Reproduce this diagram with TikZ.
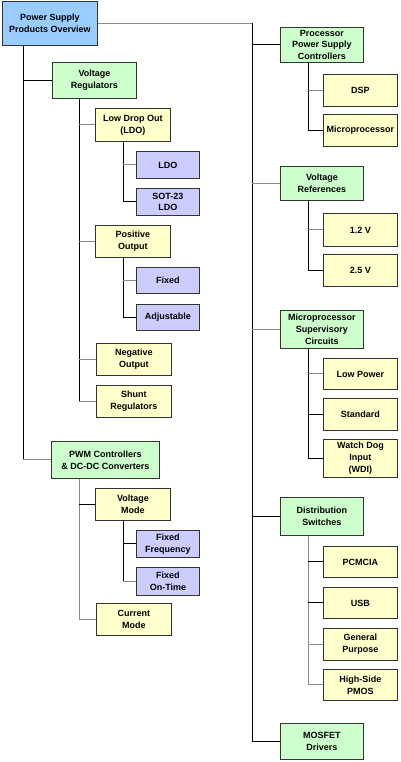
\documentclass[tikz,border=0pt]{standalone}
\usepackage{fontspec}
\setmainfont{Liberation Sans}
\definecolor{rootfill}{HTML}{99CCFF}
\definecolor{grnfill}{HTML}{CCFFCC}
\definecolor{ylwfill}{HTML}{FFFFCC}
\definecolor{prpfill}{HTML}{CCCCFF}
\definecolor{boxline}{HTML}{333333}
\definecolor{lgray}{HTML}{8A8A8A}
\tikzset{
  box/.style={draw=boxline, line width=0.9pt, inner sep=0pt, align=center,
    font=\bfseries\fontsize{9}{11.8}\selectfont, anchor=north west},
  rootbox/.style={box, fill=rootfill},
  grnbox/.style={box, fill=grnfill},
  ylwbox/.style={box, fill=ylwfill},
  prpbox/.style={box, fill=prpfill},
  klink/.style={line width=1pt, black},
  glink/.style={line width=1pt, lgray},
}
\newcommand\bx[7]{\node[#6, minimum width={#4pt-#2pt}, minimum height={#5pt-#3pt}] (#1) at (#2,#3) {#7};}
\begin{document}
\begin{tikzpicture}[x=1pt,y=-1pt]
\useasboundingbox[fill=white] (0,0) rectangle (400,762);
\coordinate (xa) at (23,0);
\coordinate (xb) at (79,0);
\coordinate (xc) at (123,0);
\coordinate (xd) at (252,0);
\coordinate (xe) at (308,0);
% left tree
\bx{root}{2}{1}{97}{45}{rootbox}{Power Supply\\Products Overview}
\bx{vr}{52}{62}{136}{98}{grnbox}{Voltage\\Regulators}
\bx{ldog}{95}{108}{170}{141}{ylwbox}{Low Drop Out\\(LDO)}
\bx{ldo}{136}{151}{199}{178}{prpbox}{LDO}
\bx{sot}{136}{188}{199}{215}{prpbox}{SOT-23\\LDO}
\bx{pos}{95}{225}{170}{257}{ylwbox}{Positive\\Output}
\bx{fix}{136}{267}{199}{293}{prpbox}{Fixed}
\bx{adj}{136}{304}{199}{330}{prpbox}{Adjustable}
\bx{neg}{96}{343}{171}{375}{ylwbox}{Negative\\Output}
\bx{shunt}{96}{385}{171}{417}{ylwbox}{Shunt\\Regulators}
\bx{pwm}{51}{441}{159}{478}{grnbox}{PWM Controllers\\\& DC-DC Converters}
\bx{vm}{95}{488}{170}{520}{ylwbox}{Voltage\\Mode}
\bx{ff}{136}{530}{199}{557}{prpbox}{Fixed\\Frequency}
\bx{fot}{136}{567}{199}{595}{prpbox}{Fixed\\On-Time}
\bx{cm}{96}{603}{171}{635}{ylwbox}{Current\\Mode}
% right tree
\bx{pps}{280}{27}{363}{62}{grnbox}{Processor\\Power Supply\\Controllers}
\bx{dsp}{323}{74}{397}{106}{ylwbox}{DSP}
\bx{mic}{323}{114}{397}{146}{ylwbox}{Microprocessor}
\bx{vref}{280}{166}{363}{200}{grnbox}{Voltage\\References}
\bx{v12}{323}{213}{397}{246}{ylwbox}{1.2 V}
\bx{v25}{323}{254}{397}{286}{ylwbox}{2.5 V}
\bx{msc}{280}{310}{363}{348}{grnbox}{Microprocessor\\Supervisory\\Circuits}
\bx{lp}{323}{358}{397}{389}{ylwbox}{Low Power}
\bx{std}{323}{398}{397}{430}{ylwbox}{Standard}
\bx{wdi}{323}{439}{397}{477}{ylwbox}{Watch Dog\\Input\\(WDI)}
\bx{ds}{280}{497}{363}{535}{grnbox}{Distribution\\Switches}
\bx{pcm}{323}{546}{397}{577}{ylwbox}{PCMCIA}
\bx{usb}{323}{587}{397}{618}{ylwbox}{USB}
\bx{gp}{323}{628}{397}{660}{ylwbox}{General\\Purpose}
\bx{hs}{323}{669}{397}{700}{ylwbox}{High-Side\\PMOS}
\bx{mos}{280}{723}{363}{759}{grnbox}{MOSFET\\Drivers}
% connectors: root
\draw[glink] (root.east) -- (root.east -| xd);
\draw[klink] (root.east -| xd) |- (mos.west);
\draw[klink] (root.south -| xa) -- (pwm.west -| xa);
\draw[glink] (pwm.west -| xa) -- (pwm.west);
\draw[klink] (vr.west) -- (vr.west -| xa);
% voltage regulators
\draw[klink] (vr.south -| xb) -- (shunt.west -| xb);
\draw[glink] (ldog.west) -- (ldog.west -| xb);
\draw[glink] (pos.west) -- (pos.west -| xb);
\draw[glink] (neg.west) -- (neg.west -| xb);
\draw[glink] (shunt.west) -- (shunt.west -| xb);
\draw[klink] (ldog.south -| xc) -- (sot.west -| xc);
\draw[glink] (ldo.west) -- (ldo.west -| xc);
\draw[klink] (sot.west) -- (sot.west -| xc);
\draw[klink] (pos.south -| xc) -- (adj.west -| xc);
\draw[glink] (fix.west) -- (fix.west -| xc);
\draw[klink] (adj.west) -- (adj.west -| xc);
% pwm
\draw[glink] (pwm.south -| xb) -- (cm.west -| xb);
\draw[klink] (vm.west) -- (vm.west -| xb);
\draw[glink] (cm.west) -- (cm.west -| xb);
\draw[klink] (vm.south -| xc) -- (fot.west -| xc);
\draw[klink] (ff.west) -- (ff.west -| xc);
\draw[glink] (fot.west) -- (fot.west -| xc);
% right side
\draw[klink] (pps.west) -- (pps.west -| xd);
\draw[klink] (pps.south -| xe) -- (mic.west -| xe);
\draw[glink] (dsp.west) -- (dsp.west -| xe);
\draw[klink] (mic.west) -- (mic.west -| xe);
\draw[glink] (vref.west) -- (vref.west -| xd);
\draw[klink] (vref.south -| xe) -- (v25.west -| xe);
\draw[glink] (v12.west) -- (v12.west -| xe);
\draw[klink] (v25.west) -- (v25.west -| xe);
\draw[glink] (msc.west) -- (msc.west -| xd);
\draw[klink] (msc.south -| xe) -- (wdi.west -| xe);
\draw[glink] (lp.west) -- (lp.west -| xe);
\draw[klink] (std.west) -- (std.west -| xe);
\draw[klink] (wdi.west) -- (wdi.west -| xe);
\draw[klink] (ds.west) -- (ds.west -| xd);
\draw[glink] (ds.south -| xe) -- (hs.west -| xe);
\draw[klink] (pcm.west) -- (pcm.west -| xe);
\draw[klink] (usb.west) -- (usb.west -| xe);
\draw[glink] (gp.west) -- (gp.west -| xe);
\draw[glink] (hs.west) -- (hs.west -| xe);
\end{tikzpicture}
\end{document}
